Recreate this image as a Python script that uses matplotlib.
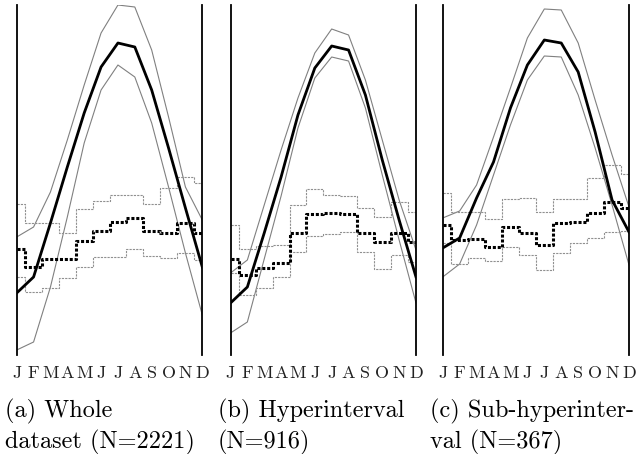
import matplotlib
matplotlib.use('Agg')
import matplotlib.pyplot as plt
import numpy as np

plt.rcParams['font.family'] = ['cmr10', 'DejaVu Serif']

months = ['J', 'F', 'M', 'A', 'M', 'J', 'J', 'A', 'S', 'O', 'N', 'D']

# (a) whole dataset
a_mean = [5.7, 7.3, 12.7, 18.3, 23.7, 28.3, 30.7, 30.3, 26.0, 20.2, 14.2, 8.3]
a_upper = [11.3, 12.3, 15.8, 21.0, 26.5, 31.7, 34.5, 34.3, 30.0, 23.3, 16.3, 13.0]
a_lower = [0.0, 0.8, 6.3, 13.3, 20.7, 26.0, 28.5, 27.3, 22.7, 16.3, 9.7, 3.5]
a_step_mean = [10.1, 8.3, 9.1, 9.1, 10.9, 11.9, 12.8, 13.2, 11.9, 11.7, 12.7, 11.7]
a_step_upper = [14.6, 12.7, 12.7, 11.7, 14.1, 14.9, 15.5, 15.5, 14.6, 16.2, 17.3, 16.7]
a_step_lower = [7.3, 5.8, 6.2, 7.2, 8.3, 9.3, 9.3, 10.1, 9.4, 9.2, 9.7, 9.0]

# (b) hyperinterval
b_mean = [4.7, 6.3, 11.7, 17.3, 23.5, 28.2, 30.4, 30.0, 25.5, 19.0, 13.0, 7.3]
b_upper = [7.7, 9.0, 14.5, 20.0, 25.2, 29.7, 32.1, 31.5, 27.0, 21.0, 15.0, 10.0]
b_lower = [1.7, 2.8, 9.1, 15.4, 22.2, 27.2, 29.3, 28.9, 24.2, 17.5, 11.0, 4.7]
b_step_mean = [9.1, 7.5, 8.2, 8.7, 11.7, 13.6, 13.7, 13.6, 11.7, 10.8, 11.7, 10.8]
b_step_upper = [12.5, 10.1, 10.4, 10.5, 14.5, 16.1, 15.5, 15.4, 14.2, 13.3, 14.8, 13.8]
b_step_lower = [7.7, 5.5, 6.2, 7.3, 9.8, 11.4, 11.6, 11.8, 9.8, 8.1, 9.5, 8.8]

# (c) sub-hyperinterval
c_mean = [10.2, 11.2, 15.2, 18.8, 24.2, 28.5, 31.0, 30.7, 27.8, 21.8, 15.0, 11.8]
c_upper = [13.2, 13.9, 16.5, 21.3, 26.2, 31.2, 34.1, 34.0, 30.7, 25.0, 19.5, 14.3]
c_lower = [7.3, 8.6, 12.5, 17.5, 22.5, 27.0, 29.4, 29.3, 25.5, 20.2, 14.5, 8.5]
c_step_mean = [12.5, 11.0, 11.1, 10.3, 12.3, 11.7, 10.5, 12.7, 12.8, 13.7, 14.8, 14.2]
c_step_upper = [15.7, 13.8, 13.8, 13.1, 15.1, 15.2, 13.8, 15.1, 15.1, 17.2, 18.5, 17.6]
c_step_lower = [10.7, 8.6, 9.2, 8.9, 10.3, 9.5, 8.0, 9.7, 10.7, 11.2, 11.8, 11.9]

captions = [('(a) Whole', 'dataset (N=2221)'),
            ('(b) Hyperinterval', '(N=916)'),
            ('(c) Sub-hyperinter-', 'val (N=367)')]


def draw_panel(ax, mean, upper, lower, s_mean, s_upper, s_lower):
	x = np.arange(len(months))
	ax.plot(x, upper, color='#808080', lw=0.8)
	ax.plot(x, lower, color='#808080', lw=0.8)
	ax.step(x, s_upper, where='mid', color='#909090', lw=0.8, linestyle=(0, (2, 1)))
	ax.step(x, s_lower, where='mid', color='#909090', lw=0.8, linestyle=(0, (2, 1)))
	ax.step(x, s_mean, where='mid', color='black', lw=2.2, linestyle=(0, (1, 0.6)))
	ax.plot(x, mean, color='black', lw=2.0)
	ax.set_xlim(0, 11)
	ax.set_ylim(-0.5, 34.5)
	ax.set_xticks(x)
	ax.set_xticklabels(months, fontsize=13, color='#222222')  # 月份标签
	ax.tick_params(axis='x', length=0, pad=8)
	ax.set_yticks([])
	ax.spines['top'].set_visible(False)
	ax.spines['bottom'].set_visible(False)
	ax.spines['left'].set_linewidth(1.3)
	ax.spines['right'].set_linewidth(1.3)


fig = plt.figure(figsize=(6.37, 4.54), dpi=100)
W, H = 637.0, 454.0
lefts = [16.7, 230.5, 442.7]
rights = [202.3, 416.0, 629.0]
panels = [(a_mean, a_upper, a_lower, a_step_mean, a_step_upper, a_step_lower),
          (b_mean, b_upper, b_lower, b_step_mean, b_step_upper, b_step_lower),
          (c_mean, c_upper, c_lower, c_step_mean, c_step_upper, c_step_lower)]
cap_x = [5, 218, 430]

for i in range(3):
	ax = fig.add_axes([lefts[i] / W, 1 - 355 / H, (rights[i] - lefts[i]) / W, 350 / H])
	draw_panel(ax, *panels[i])
	fig.text(cap_x[i] / W, 1 - 417 / H, captions[i][0], fontsize=17.5, va='baseline')
	fig.text(cap_x[i] / W, 1 - 448 / H, captions[i][1], fontsize=17.5, va='baseline')

fig.savefig('out.png', dpi=100)
